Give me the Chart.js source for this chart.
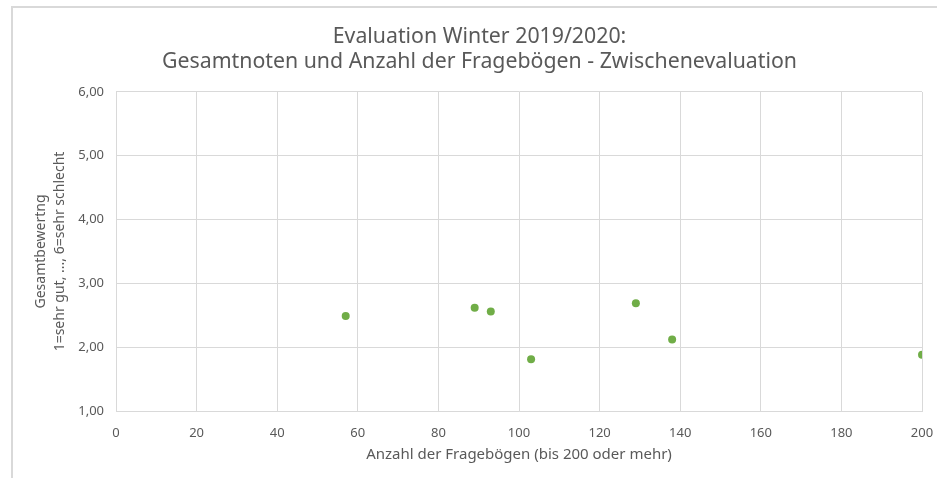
<!DOCTYPE html>
<html>
<head>
<meta charset="utf-8">
<script src="https://cdn.jsdelivr.net/npm/chart.js@4/dist/chart.umd.min.js"></script>
<style>
  body { margin: 0; background: #fff; overflow: hidden; }
  #frame { position: absolute; left: 11px; top: 6px; width: 1000px; height: 1000px;
           border-left: 2px solid #d9d9d9; border-top: 2px solid #d9d9d9; }
  #wrap { position: absolute; left: 0; top: 0; width: 937px; height: 478px; }
</style>
</head>
<body>
<div id="frame"></div>
<div id="wrap"><canvas id="canvas" width="937" height="478"></canvas></div>
<script>
// Anzahl Fragebögen / Gesamtnote je Veranstaltung
var fragebogen = [57, 89, 93, 103, 129, 138, 200];
var gesamtnote = [2.49, 2.62, 2.56, 1.81, 2.69, 2.12, 1.88];
var titel = ['Evaluation Winter 2019/2020:', 'Gesamtnoten und Anzahl der Fragebögen - Zwischenevaluation'];

var punkte = [];
for (var i = 0; i < fragebogen.length; i++) {
  punkte.push({x: fragebogen[i], y: gesamtnote[i]});
}

var grau = '#595959';
Chart.defaults.font.family = '"Noto Sans", "Open Sans", sans-serif';
Chart.defaults.color = grau;

var ctx = document.getElementById('canvas');
window.myScatter = new Chart(ctx, {
  type: 'scatter',
  data: {
    datasets: [{
      label: 'Gesamtnote',
      data: punkte,
      backgroundColor: '#70ad47',
      borderColor: '#70ad47',
      borderWidth: 0,
      pointRadius: 4,
      pointHoverRadius: 4
    }]
  },
  options: {
    responsive: false,
    animation: false,
    layout: { padding: { left: 24, right: 2, top: 0, bottom: 9.5 } },
    plugins: {
      legend: { display: false },
      tooltip: { enabled: false },
      title: {
        display: true,
        text: titel,
        color: grau,
        font: { size: 21.3, weight: 'normal', lineHeight: 1.15 },
        padding: { top: 25, bottom: 18 }
      }
    },
    scales: {
      x: {
        type: 'linear',
        min: 0,
        max: 200,
        ticks: { stepSize: 20, padding: 16, font: { size: 13, lineHeight: 1.0 }, color: grau },
        grid: { color: '#d9d9d9', drawTicks: false },
        border: { color: '#d9d9d9' },
        title: {
          display: true,
          text: 'Anzahl der Fragebögen (bis 200 oder mehr)',
          font: { size: 15, lineHeight: 1.0 },
          color: grau,
          padding: { top: 0, bottom: 6 }
        },
        afterFit: function(scale) {
          scale.paddingRight = 15;
          scale.height = 57.5;
        }
      },
      y: {
        min: 1,
        max: 6,
        ticks: {
          stepSize: 1,
          padding: 12,
          font: { size: 13 },
          color: grau,
          callback: function(v) { return v.toFixed(2).replace('.', ','); }
        },
        grid: { color: '#d9d9d9', drawTicks: false },
        border: { color: '#d9d9d9' },
        title: {
          display: true,
          text: ['Gesamtbewertng', '1=sehr gut, ..., 6=sehr schlecht'],
          font: { size: 14, lineHeight: 1.4 },
          color: grau,
          padding: { top: 7, bottom: 6 }
        },
        afterFit: function(scale) { scale.width = 92; }
      }
    }
  }
});
</script>
</body>
</html>
